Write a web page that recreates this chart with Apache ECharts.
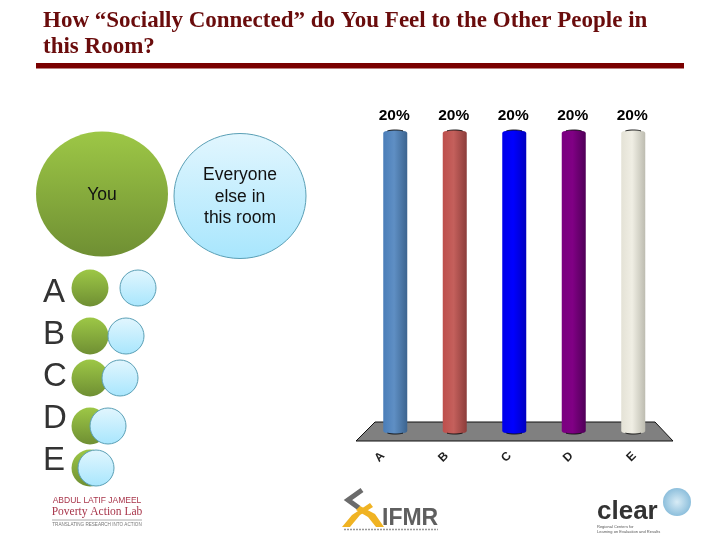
<!DOCTYPE html>
<html>
<head>
<meta charset="utf-8">
<style>html,body{margin:0;padding:0;background:#fff}#chart{width:720px;height:540px}</style>
<script src="https://cdn.jsdelivr.net/npm/echarts@6/dist/echarts.min.js"></script>
</head>
<body>
<div id="chart"></div>
<script>
var categories = ['A', 'B', 'C', 'D', 'E'];
var values = [20, 20, 20, 20, 20];

// slide artwork, not data
var barStops = [
	['#4a7db8', '#5f8fc4', '#3c648f'],
	['#bd4f4c', '#c4605c', '#8c3d3b'],
	['#0000e8', '#0000ff', '#0000c0'],
	['#7a0080', '#800084', '#500058'],
	['#e4e2d6', '#f0eee4', '#bdbcb0']
];
var labelPos = [-0.21, 0.86, 1.92, 2.96, 4.02];
var smallGreenY = [288, 336, 378, 426, 468];
var smallBlueX = [138, 126, 120, 108, 96];
var letterY = [292.5, 334.5, 376.5, 418.5, 460.5];

function green() {
	return new echarts.graphic.LinearGradient(0, 0, 0, 1, [
		{offset: 0, color: '#9dc746'}, {offset: 1, color: '#6f8f33'}
	]);
}
function blue() {
	return new echarts.graphic.LinearGradient(0, 0, 0, 1, [
		{offset: 0, color: '#e2f6fe'}, {offset: 1, color: '#a8e6fd'}
	]);
}
function txt(x, y, s, font, fill, align) {
	return {type: 'text', x: x, y: y, style: {text: s, font: font, fill: fill, align: align || 'left', verticalAlign: 'middle'}};
}

var graphics = [
	{type: 'rect', shape: {x: 36, y: 63, width: 648, height: 5.5}, style: {fill: '#7a0000'}},
	txt(43, 21, 'How “Socially Connected” do You Feel to the Other People in', 'bold 23px "Liberation Serif"', '#6a0c0c'),
	txt(43, 47, 'this Room?', 'bold 23px "Liberation Serif"', '#6a0c0c'),
	{type: 'ellipse', shape: {cx: 102, cy: 194, rx: 66, ry: 62.5}, style: {fill: green()}},
	{type: 'ellipse', shape: {cx: 240, cy: 196, rx: 66, ry: 62.5}, style: {fill: blue(), stroke: '#5a9fb5', lineWidth: 1}},
	txt(102, 195, 'You', '17.5px "Liberation Sans"', '#111', 'center'),
	txt(240, 175, 'Everyone', '17.5px "Liberation Sans"', '#111', 'center'),
	txt(240, 197, 'else in', '17.5px "Liberation Sans"', '#111', 'center'),
	txt(240, 218, 'this room', '17.5px "Liberation Sans"', '#111', 'center')
];
categories.forEach(function (c, i) {
	graphics.push(txt(43, letterY[i], c, '33px "Liberation Sans"', '#333'));
	graphics.push({type: 'circle', shape: {cx: 90, cy: smallGreenY[i], r: 18.5}, style: {fill: green()}});
	graphics.push({type: 'circle', shape: {cx: smallBlueX[i], cy: smallGreenY[i], r: 18}, style: {fill: blue(), stroke: '#5a9fb5', lineWidth: 1}});
});
// the grey floor under the cylinders
graphics.push({type: 'polygon', z: 0, shape: {points: [[375, 422], [655, 422], [673, 441], [356, 441]]},
	style: {fill: '#808080', stroke: '#111', lineWidth: 1}});
// J-PAL logo
graphics.push(
	txt(97, 501, 'ABDUL LATIF JAMEEL', '8.5px "Liberation Sans"', '#a8354a', 'center'),
	txt(97, 512, 'Poverty Action Lab', '11.5px "Liberation Serif"', '#a8354a', 'center'),
	{type: 'line', shape: {x1: 52, y1: 520, x2: 142, y2: 520}, style: {stroke: '#aaa', lineWidth: 1}},
	txt(97, 525, 'TRANSLATING RESEARCH INTO ACTION', '4.6px "Liberation Sans"', '#777', 'center')
);
// IFMR logo
graphics.push(
	{type: 'polyline', shape: {points: [[362, 490], [348, 500], [359, 508]]}, style: {stroke: '#6b6b6b', lineWidth: 5, fill: 'none'}},
	{type: 'polygon', shape: {points: [[342, 527], [352, 515], [370, 503], [373, 507], [360, 515], [350, 527]]}, style: {fill: '#f0b323'}},
	{type: 'polygon', shape: {points: [[356, 510], [360, 506], [375, 514], [384, 527], [376, 527], [368, 517]]}, style: {fill: '#f0b323'}},
	txt(382, 519, 'IFMR', 'bold 23px "Liberation Sans"', '#5f5f5f'),
	{type: 'line', shape: {x1: 344, y1: 529.5, x2: 438, y2: 529.5}, style: {stroke: '#999', lineWidth: 1.5, lineDash: [2, 1]}}
);
// CLEAR logo
graphics.push(
	{type: 'circle', shape: {cx: 677, cy: 502, r: 14}, style: {fill: new echarts.graphic.RadialGradient(0.5, 0.5, 0.5, [
		{offset: 0, color: '#d8ecf6'}, {offset: 1, color: '#8dbfdc'}
	])}},
	txt(597, 512, 'clear', 'bold 26px "Liberation Sans"', '#333'),
	txt(597, 527, 'Regional Centers for', '4px "Liberation Sans"', '#555'),
	txt(597, 532, 'Learning on Evaluation and Results', '4px "Liberation Sans"', '#555')
);

function ellipsePts(cx, cy, rx, ry, a0, a1) {
	var pts = [];
	for (var k = 0; k <= 16; k++) {
		var a = a0 + (a1 - a0) * k / 16;
		pts.push([cx + rx * Math.cos(a), cy + ry * Math.sin(a)]);
	}
	return pts;
}

function renderCylinder(params, api) {
	var i = api.value(0);
	var top = api.coord([i, api.value(1)]);
	var base = api.coord([i, 0]);
	var rx = 12, ry = 3;
	var s = barStops[i];
	var body = ellipsePts(top[0], top[1], rx, ry, Math.PI, 2 * Math.PI)
		.concat(ellipsePts(base[0], base[1], rx, ry, 0, Math.PI));
	return {type: 'group', children: [
		{type: 'polygon', shape: {points: body}, style: {fill: new echarts.graphic.LinearGradient(0, 0, 1, 0, [
			{offset: 0, color: s[0]}, {offset: 0.45, color: s[1]}, {offset: 1, color: s[2]}
		])}},
		{type: 'polyline', shape: {points: ellipsePts(top[0], top[1], rx - 1, ry, 1.25 * Math.PI, 1.75 * Math.PI)},
			style: {stroke: '#111', lineWidth: 1, fill: 'none'}},
		{type: 'polyline', shape: {points: ellipsePts(base[0], base[1], rx - 1, ry, 0.25 * Math.PI, 0.75 * Math.PI)},
			style: {stroke: '#111', lineWidth: 1, fill: 'none'}},
		{type: 'text', x: top[0] - 1, y: top[1] - 17, style: {text: api.value(1) + '%',
			font: 'bold 15.5px "Liberation Sans"', fill: '#000', align: 'center', verticalAlign: 'middle'}}
	]};
}

var myChart = echarts.init(document.getElementById('chart'));
myChart.setOption({
	animation: false,
	grid: {left: 365.5, width: 297.5, top: 133, height: 298},
	graphic: {elements: graphics},
	xAxis: [{
		type: 'category',
		data: categories,
		show: false
	}, {
		type: 'value',
		min: -0.5,
		max: 4.5,
		position: 'bottom',
		axisLine: {show: false},
		axisTick: {show: false},
		splitLine: {show: false},
		axisLabel: {
			customValues: labelPos,
			margin: 23,
			rotate: 45,
			color: '#222',
			fontFamily: 'Liberation Sans',
			fontWeight: 'bold',
			fontSize: 12,
			formatter: function (v) {
				return categories[labelPos.indexOf(v)];
			}
		}
	}],
	yAxis: {type: 'value', min: 0, max: 20, show: false},
	series: [{
		type: 'custom',
		xAxisIndex: 0,
		z: 5,
		renderItem: renderCylinder,
		encode: {x: 0, y: 1},
		data: categories.map(function (c, i) { return [i, values[i]]; })
	}]
});
</script>
</body>
</html>
